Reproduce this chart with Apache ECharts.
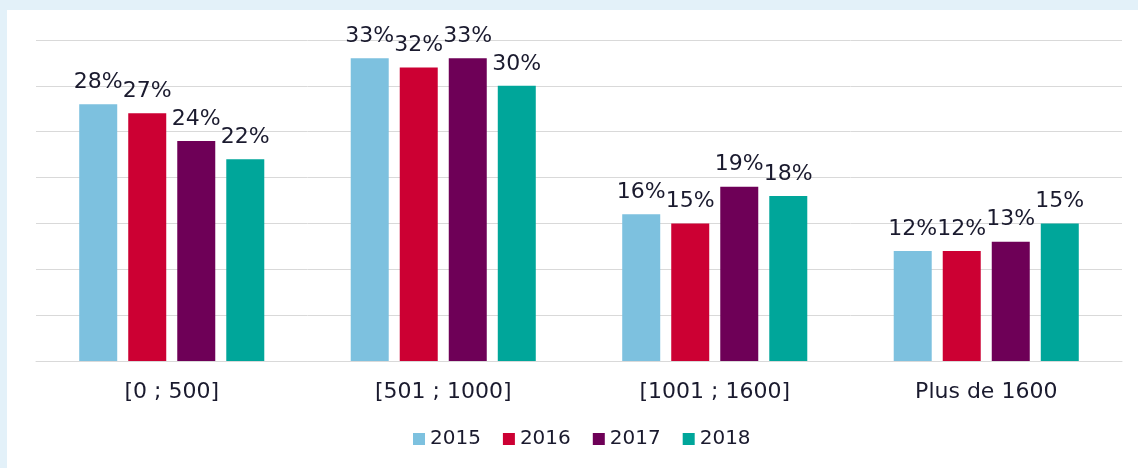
<!DOCTYPE html>
<html>

<head>
    <meta charset="utf-8">
    <title>Bars</title>
    <script src="https://cdn.jsdelivr.net/npm/echarts@6/dist/echarts.min.js"></script>
    <style>
        body { margin: 0; background: #e3f1f9; }
        #main { position: absolute; left: 7px; top: 10px; width: 1131px; height: 458px; background: #fff; }
    </style>
</head>

<body>
    <div id="main"></div>
</body>
<script type="text/javascript">
    var categories = ['[0 ; 500]', '[501 ; 1000]', '[1001 ; 1600]', 'Plus de 1600'];
    var years = ['2015', '2016', '2017', '2018'];
    var v2015 = [28, 33, 16, 12];
    var v2016 = [27, 32, 15, 12];
    var v2017 = [24, 33, 19, 13];
    var v2018 = [22, 30, 18, 15];

    var colors = ['#7dc1df', '#cc0033', '#6e0057', '#00a69a'];
    var txt = '#1a1a2e';
    var font = '"DejaVu Sans", Verdana, sans-serif';

    var myChart = echarts.init(document.getElementById('main'));

    function mk(name, data, i) {
        return {
            name: name,
            type: 'bar',
            data: data,
            barWidth: 38,
            barGap: '29%',
            itemStyle: { color: colors[i] },
            label: {
                show: true,
                position: 'top',
                distance: 11,
                formatter: '{c}%',
                color: txt,
                fontSize: 22,
                fontFamily: font
            },
            animation: false
        };
    }

    var option = {
        animation: false,
        color: colors,
        grid: { left: 29, right: 16, top: 30, bottom: 107 },
        legend: {
            data: years,
            top: 414,
            left: 401,
            itemWidth: 12,
            itemHeight: 12,
            itemGap: 22,
            icon: 'rect',
            textStyle: { color: txt, fontSize: 20, fontFamily: font }
        },
        xAxis: {
            type: 'category',
            data: categories,
            axisLine: { lineStyle: { color: '#d9d9d9' } },
            axisTick: { show: false },
            axisLabel: { color: txt, fontSize: 22, fontFamily: font, margin: 20 }
        },
        yAxis: {
            type: 'value',
            min: 0,
            max: 35,
            interval: 5,
            axisLabel: { show: false },
            axisLine: { show: false },
            axisTick: { show: false },
            splitLine: { lineStyle: { color: '#d9d9d9', width: 1 } }
        },
        series: [
            mk(years[0], v2015, 0),
            mk(years[1], v2016, 1),
            mk(years[2], v2017, 2),
            mk(years[3], v2018, 3)
        ]
    };
    myChart.setOption(option);
</script>

</html>
